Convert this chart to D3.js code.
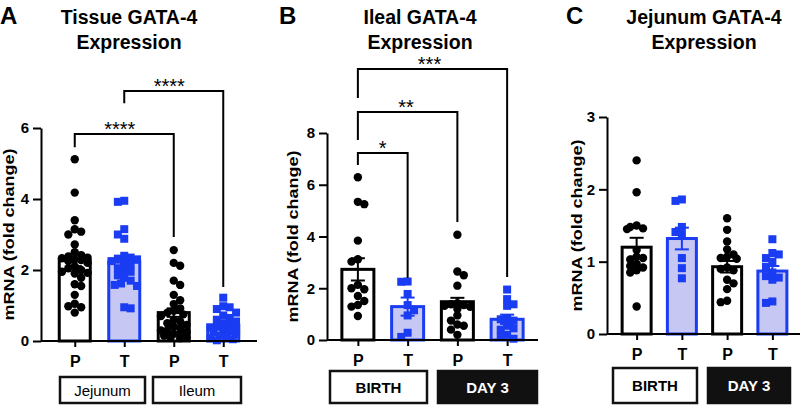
<!DOCTYPE html>
<html><head><meta charset="utf-8">
<script src="https://cdn.jsdelivr.net/npm/d3@7"></script>
<style>
body{margin:0;background:#fff}
svg{display:block}
text{font-family:"Liberation Sans",Arial,Helvetica,sans-serif;fill:#000}
</style>
</head><body>
<svg id="chart" width="803" height="405"></svg>
<script>
// ---------------- DATA ----------------
const treatments = ["P", "T"];
const groupsA = ["Jejunum", "Ileum"];
const groupsBC = ["BIRTH", "DAY 3"];
const ticksA = [0, 2, 4, 6];
const ticksB = [0, 2, 4, 6, 8];
const ticksC = [0, 1, 2, 3];

// Panel A: Tissue GATA-4
const aJejunumP = [5.12, 4.18, 3.4, 3.15, 3.08, 3.0, 2.72, 2.5, 2.42, 2.38, 2.35, 2.33, 2.3, 2.28, 2.25, 2.2, 2.1, 2.05, 2.0, 1.95, 1.92, 1.9, 1.78, 1.6, 1.55, 1.3, 1.05, 0.98, 0.95, 0.8];
const aJejunumT = [3.95, 3.92, 3.15, 3.0, 2.88, 2.4, 2.35, 2.32, 2.3, 2.25, 2.2, 2.15, 2.05, 2.0, 1.95, 1.85, 1.78, 1.7, 1.62, 1.58, 1.55, 0.95, 0.92];
const aIleumP = [2.56, 2.2, 2.12, 1.7, 1.58, 1.3, 1.15, 1.04, 0.92, 0.85, 0.8, 0.75, 0.7, 0.6, 0.55, 0.5, 0.45, 0.4, 0.35, 0.3, 0.3, 0.25, 0.2, 0.2, 0.15, 0.1, 0.1, 0.08];
const aIleumT = [1.22, 0.98, 0.95, 0.9, 0.8, 0.72, 0.65, 0.6, 0.55, 0.5, 0.45, 0.4, 0.38, 0.35, 0.3, 0.28, 0.25, 0.2, 0.15, 0.12, 0.08, 0.05, 0.02];
const aMeans = [2.28, 2.22, 0.80, 0.45];
const aSems = [0.17, 0.16, 0.12, 0.07];

// Panel B: Ileal GATA-4
const bBirthP = [6.29, 5.34, 5.25, 3.84, 3.12, 3.03, 2.13, 2.0, 1.96, 1.7, 1.51, 1.35, 1.29, 0.93];
const bBirthT = [2.26, 2.25, 1.78, 1.35, 1.15, 0.95, 0.28, 0.12];
const bDay3P = [4.07, 2.65, 2.5, 2.1, 1.42, 1.38, 1.35, 1.32, 1.28, 1.2, 0.95, 0.75, 0.6, 0.55, 0.4, 0.2];
const bDay3T = [1.95, 1.58, 1.38, 1.32, 0.85, 0.8, 0.75, 0.55, 0.45, 0.4, 0.2, 0.12, 0.05];
const bMeans = [2.73, 1.29, 1.48, 0.80];
const bSems = [0.43, 0.35, 0.15, 0.18];

// Panel C: Jejunum GATA-4
const cBirthP = [2.4, 1.96, 1.5, 1.48, 1.46, 1.45, 1.16, 1.07, 1.05, 1.03, 0.97, 0.94, 0.92, 0.88, 0.85, 0.38];
const cBirthT = [1.86, 1.84, 1.48, 1.41, 1.37, 1.05, 0.91, 0.77];
const cDay3P = [1.6, 1.44, 1.28, 1.17, 1.1, 1.07, 1.05, 1.04, 0.92, 0.9, 0.88, 0.75, 0.7, 0.62, 0.46, 0.44];
const cDay3T = [1.31, 1.12, 1.1, 1.05, 1.0, 0.93, 0.85, 0.8, 0.78, 0.75, 0.45, 0.43];
const cMeans = [1.2, 1.32, 0.93, 0.87];
const cSems = [0.13, 0.15, 0.08, 0.07];

// Significance brackets: [fromIndex, toIndex, topValue, leftLegEnd, rightLegEnd, label]
const aBrackets = [[0, 2, 5.83, 5.46, 2.93, "****"], [1, 3, 7.04, 6.7, 1.52, "****"]];
const bBrackets = [[0, 1, 7.23, 6.76, 2.4, "*"], [0, 2, 8.81, 7.73, 4.56, "**"], [0, 3, 10.47, 9.35, 2.43, "***"]];
const cBrackets = [];

// ---------------- STYLE / LAYOUT ----------------
const BLUE = "#1a3cf2";
const LIGHT = "#c7c7f3";

const panels = [
  { letter: "A", letterX: 0, title: ["Tissue GATA-4", "Expression"], titleX: 129,
    axisX: 41, xRange: [50, 248], axisEnd: 257, y0: 341, yTop: 128, max: 6, ticks: ticksA,
    barW: 31, ylabelX: 9, boxes: [[60, 145], [153, 241]], boxY: [377, 403], groups: groupsA, darkSecond: false,
    series: [aJejunumP, aJejunumT, aIleumP, aIleumT], means: aMeans, sems: aSems, brackets: aBrackets },
  { letter: "B", letterX: 279, title: ["Ileal GATA-4", "Expression"], titleX: 420,
    axisX: 327, xRange: [333, 532], axisEnd: 538, y0: 340, yTop: 133, max: 8, ticks: ticksB,
    barW: 32, ylabelX: 293, boxes: [[330, 427], [438, 537]], boxY: [371, 403], groups: groupsBC, darkSecond: true,
    series: [bBirthP, bBirthT, bDay3P, bDay3T], means: bMeans, sems: bSems, brackets: bBrackets },
  { letter: "C", letterX: 566, title: ["Jejunum GATA-4", "Expression"], titleX: 704,
    axisX: 607, xRange: [614, 795], axisEnd: 800, y0: 334, yTop: 117, max: 3, ticks: ticksC,
    barW: 29, ylabelX: 577, boxes: [[613, 697], [708, 790]], boxY: [368, 403], groups: groupsBC, darkSecond: true,
    series: [cBirthP, cBirthT, cDay3P, cDay3T], means: cMeans, sems: cSems, brackets: cBrackets }
];

const svg = d3.select("#chart");
svg.append("rect").attr("width", 803).attr("height", 405).attr("fill", "#fff");

function swarm(values, cx, y, r, maxOff) {
  const placed = [];
  const sorted = values.slice().sort((a, b) => b - a);
  const step = r * 0.8;
  const minD = 2 * r * 0.8;
  let flip = 1;
  sorted.forEach(v => {
    const py = y(v);
    let best = cx, bestScore = Infinity;
    const nK = Math.floor(maxOff / step);
    outer:
    for (let k = 0; k <= nK; k++) {
      const signs = k === 0 ? [0] : [flip, -flip];
      for (const s of signs) {
        const px = cx + s * k * step;
        let ov = 0;
        placed.forEach(q => {
          const d = Math.hypot(q.x - px, q.y - py);
          if (d < minD) ov += minD - d;
        });
        if (ov < bestScore - 1e-9) { bestScore = ov; best = px; }
        if (ov === 0) break outer;
      }
    }
    flip = -flip;
    placed.push({ x: best, y: py, v });
  });
  return placed;
}

panels.forEach(p => {
  const g = svg.append("g");
  const cats = d3.range(4);
  const x = d3.scalePoint().domain(cats).range(p.xRange).padding(0.5);
  const y = d3.scaleLinear().domain([0, p.max]).range([p.y0, p.yTop]);

  // letter and title
  g.append("text").attr("x", p.letterX).attr("y", 24).attr("font-size", 24).attr("font-weight", "bold").text(p.letter);
  p.title.forEach((t, i) => {
    g.append("text").attr("x", p.titleX).attr("y", 24 + i * 24.5).attr("text-anchor", "middle")
      .attr("font-size", 19.5).attr("font-weight", "bold").text(t);
  });

  // y axis
  const ya = g.append("g").attr("transform", `translate(${p.axisX},0)`)
    .call(d3.axisLeft(y).tickValues(p.ticks).tickFormat(d3.format("d")).tickSize(8).tickSizeOuter(0).tickPadding(4));
  ya.select(".domain").attr("stroke", "#000").attr("stroke-width", 2);
  ya.selectAll(".tick line").attr("stroke", "#000").attr("stroke-width", 2);
  ya.selectAll(".tick text").attr("font-size", 15).attr("font-weight", "bold").attr("fill", "#000")
    .attr("font-family", '"Liberation Sans",Arial,sans-serif');

  g.append("text").attr("transform", `translate(${p.ylabelX},${(p.y0 + p.yTop) / 2}) rotate(-90)`)
    .attr("text-anchor", "middle").attr("dy", "0.35em").attr("font-size", 14).attr("font-weight", "bold")
    .attr("textLength", 172).attr("lengthAdjust", "spacingAndGlyphs")
    .text("mRNA (fold change)");

  // bars
  cats.forEach(i => {
    const isT = i % 2 === 1;
    g.append("rect").attr("x", x(i) - p.barW / 2).attr("y", y(p.means[i]))
      .attr("width", p.barW).attr("height", p.y0 - y(p.means[i]))
      .attr("fill", isT ? LIGHT : "#fff").attr("stroke", isT ? BLUE : "#000").attr("stroke-width", 3);
  });

  // points
  cats.forEach(i => {
    const isT = i % 2 === 1;
    const pts = swarm(p.series[i], x(i), y, 4, p.barW / 2 - 2);
    if (isT) {
      g.selectAll(null).data(pts).join("rect")
        .attr("x", d => d.x - 4).attr("y", d => d.y - 4).attr("width", 8).attr("height", 8)
        .attr("fill", BLUE);
    } else {
      g.selectAll(null).data(pts).join("circle")
        .attr("cx", d => d.x).attr("cy", d => d.y).attr("r", 4.2).attr("fill", "#000");
    }
  });

  // error bars
  cats.forEach(i => {
    const isT = i % 2 === 1;
    const col = isT ? BLUE : "#000";
    const m = p.means[i], s = p.sems[i];
    const e = g.append("g").attr("stroke", col).attr("stroke-width", 2);
    e.append("line").attr("x1", x(i)).attr("x2", x(i)).attr("y1", y(m + s)).attr("y2", y(m - s));
    [m + s, m - s].forEach(v => {
      e.append("line").attr("x1", x(i) - 7).attr("x2", x(i) + 7).attr("y1", y(v)).attr("y2", y(v));
    });
  });

  // x axis
  g.append("line").attr("x1", p.axisX).attr("x2", p.axisEnd).attr("y1", p.y0).attr("y2", p.y0)
    .attr("stroke", "#000").attr("stroke-width", 2);
  const xa = g.append("g").attr("transform", `translate(0,${p.y0})`)
    .call(d3.axisBottom(x).tickSize(6).tickPadding(8.6).tickFormat(i => treatments[i % 2]));
  xa.select(".domain").remove();
  xa.selectAll(".tick line").attr("stroke", "#000").attr("stroke-width", 2);
  xa.selectAll(".tick text").attr("font-size", 16).attr("font-weight", "bold").attr("fill", "#000")
    .attr("font-family", '"Liberation Sans",Arial,sans-serif');

  // group boxes
  p.boxes.forEach((b, j) => {
    const dark = p.darkSecond && j === 1;
    g.append("rect").attr("x", b[0]).attr("y", p.boxY[0]).attr("width", b[1] - b[0]).attr("height", p.boxY[1] - p.boxY[0])
      .attr("fill", dark ? "#111" : "#fff").attr("stroke", "#111").attr("stroke-width", 2.5);
    g.append("text").attr("x", (b[0] + b[1]) / 2).attr("y", (p.boxY[0] + p.boxY[1]) / 2 + 5.5)
      .attr("text-anchor", "middle").attr("font-size", 15)
      .attr("font-weight", p.darkSecond ? "bold" : "normal")
      .style("fill", dark ? "#fff" : "#000").text(p.groups[j]);
  });

  // brackets
  p.brackets.forEach(br => {
    const [a, b, top, l, r, lab] = br;
    const path = d3.path();
    path.moveTo(x(a), y(l)); path.lineTo(x(a), y(top)); path.lineTo(x(b), y(top)); path.lineTo(x(b), y(r));
    g.append("path").attr("d", path.toString()).attr("fill", "none").attr("stroke", "#000").attr("stroke-width", 2);
    g.append("text").attr("x", (x(a) + x(b)) / 2 - (lab.length - 1) * 1.5).attr("y", y(top) + 2)
      .attr("text-anchor", "middle").attr("font-size", 20).text(lab);
  });
});
</script>
</body></html>
